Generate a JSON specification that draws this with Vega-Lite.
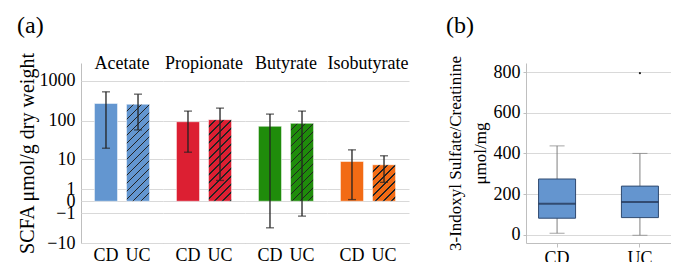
{
  "$schema": "https://vega.github.io/schema/vega-lite/v6.json",
  "padding": {"left": 17, "right": 0, "top": 13, "bottom": 0},
  "config": {
    "font": "Liberation Serif",
    "view": {"stroke": null},
    "axis": {"labelFont": "Liberation Serif", "titleFont": "Liberation Serif", "labelColor": "#000", "titleColor": "#000", "titleFontWeight": "normal", "domainColor": "#bfbfbf", "gridColor": "#d9d9d9", "tickColor": "#bfbfbf"},
    "title": {"font": "Liberation Serif", "fontWeight": "normal", "fontSize": 24, "anchor": "start", "color": "#000", "offset": 14}
  },
  "spacing": 37,
  "hconcat": [
    {
      "title": {"text": "(a)"},
      "data": {"values": [
        {"group": "Acetate", "type": "CD", "value": 273, "lo": 20, "hi": 534},
        {"group": "Acetate", "type": "UC", "value": 262, "lo": 59, "hi": 467},
        {"group": "Propionate", "type": "CD", "value": 95, "lo": 15.7, "hi": 176},
        {"group": "Propionate", "type": "UC", "value": 107, "lo": 2.3, "hi": 209},
        {"group": "Butyrate", "type": "CD", "value": 73, "lo": -3.6, "hi": 148},
        {"group": "Butyrate", "type": "UC", "value": 86.5, "lo": -1.35, "hi": 176},
        {"group": "Isobutyrate", "type": "CD", "value": 8.8, "lo": 0.1, "hi": 18.1},
        {"group": "Isobutyrate", "type": "UC", "value": 7.1, "lo": 1.96, "hi": 12.6}
      ]},
      "facet": {"column": {"field": "group", "type": "nominal", "sort": ["Acetate", "Propionate", "Butyrate", "Isobutyrate"],
        "header": {"title": null, "labelFont": "Liberation Serif", "labelFontSize": 18, "labelColor": "#000", "labelPadding": -10}}},
      "spacing": 0,
      "spec": {
        "width": 82,
        "height": 180,
        "encoding": {
          "x": {"field": "type", "type": "nominal", "scale": {"paddingInner": 0.28, "paddingOuter": 0.42},
            "axis": {"title": null, "labelAngle": 0, "ticks": false, "labelFontSize": 18, "labelPadding": 3}}
        },
        "layer": [
          {
            "mark": {"type": "bar", "stroke": "#ffffff", "strokeOpacity": 0.5, "strokeWidth": 1},
            "encoding": {
              "y": {"field": "value", "type": "quantitative",
                "scale": {"type": "symlog", "constant": 1, "domain": [-10, 2800], "nice": false},
                "axis": {"title": "SCFA μmol/g dry weight", "values": [-10, -1, 0, 1, 10, 100, 1000], "tickCount": 20, "format": "d", "ticks": false, "labelPadding": 6, "titlePadding": 2, "labelFontSize": 18, "titleFontSize": 20, "labelOverlap": false, "labelFlush": false}},
              "color": {
                "condition": [
                  {"test": "datum.type === 'UC' && datum.group === 'Acetate'", "value": {"gradient": "linear", "x1": 0, "y1": 0, "x2": 0.2777, "y2": 1.1713, "stops": [
                    {"offset": 0, "color": "#6396d0"}, {"offset": 0.055, "color": "#6396d0"}, {"offset": 0.055, "color": "#222222"}, {"offset": 0.0667, "color": "#222222"},
                    {"offset": 0.0667, "color": "#6396d0"}, {"offset": 0.1216, "color": "#6396d0"}, {"offset": 0.1216, "color": "#222222"}, {"offset": 0.1333, "color": "#222222"},
                    {"offset": 0.1333, "color": "#6396d0"}, {"offset": 0.1883, "color": "#6396d0"}, {"offset": 0.1883, "color": "#222222"}, {"offset": 0.2, "color": "#222222"},
                    {"offset": 0.2, "color": "#6396d0"}, {"offset": 0.255, "color": "#6396d0"}, {"offset": 0.255, "color": "#222222"}, {"offset": 0.2667, "color": "#222222"},
                    {"offset": 0.2667, "color": "#6396d0"}, {"offset": 0.3216, "color": "#6396d0"}, {"offset": 0.3216, "color": "#222222"}, {"offset": 0.3333, "color": "#222222"},
                    {"offset": 0.3333, "color": "#6396d0"}, {"offset": 0.3883, "color": "#6396d0"}, {"offset": 0.3883, "color": "#222222"}, {"offset": 0.4, "color": "#222222"},
                    {"offset": 0.4, "color": "#6396d0"}, {"offset": 0.455, "color": "#6396d0"}, {"offset": 0.455, "color": "#222222"}, {"offset": 0.4667, "color": "#222222"},
                    {"offset": 0.4667, "color": "#6396d0"}, {"offset": 0.5216, "color": "#6396d0"}, {"offset": 0.5216, "color": "#222222"}, {"offset": 0.5333, "color": "#222222"},
                    {"offset": 0.5333, "color": "#6396d0"}, {"offset": 0.5883, "color": "#6396d0"}, {"offset": 0.5883, "color": "#222222"}, {"offset": 0.6, "color": "#222222"},
                    {"offset": 0.6, "color": "#6396d0"}, {"offset": 0.655, "color": "#6396d0"}, {"offset": 0.655, "color": "#222222"}, {"offset": 0.6667, "color": "#222222"},
                    {"offset": 0.6667, "color": "#6396d0"}, {"offset": 0.7216, "color": "#6396d0"}, {"offset": 0.7216, "color": "#222222"}, {"offset": 0.7333, "color": "#222222"},
                    {"offset": 0.7333, "color": "#6396d0"}, {"offset": 0.7883, "color": "#6396d0"}, {"offset": 0.7883, "color": "#222222"}, {"offset": 0.8, "color": "#222222"},
                    {"offset": 0.8, "color": "#6396d0"}, {"offset": 0.855, "color": "#6396d0"}, {"offset": 0.855, "color": "#222222"}, {"offset": 0.8667, "color": "#222222"},
                    {"offset": 0.8667, "color": "#6396d0"}, {"offset": 0.9216, "color": "#6396d0"}, {"offset": 0.9216, "color": "#222222"}, {"offset": 0.9333, "color": "#222222"},
                    {"offset": 0.9333, "color": "#6396d0"}, {"offset": 1, "color": "#6396d0"}
                  ]}},
                  {"test": "datum.type === 'UC' && datum.group === 'Propionate'", "value": {"gradient": "linear", "x1": 0, "y1": 0, "x2": 0.3352, "y2": 1.1877, "stops": [
                    {"offset": 0, "color": "#dc1f32"}, {"offset": 0.0632, "color": "#dc1f32"}, {"offset": 0.0632, "color": "#222222"}, {"offset": 0.0766, "color": "#222222"},
                    {"offset": 0.0766, "color": "#dc1f32"}, {"offset": 0.1397, "color": "#dc1f32"}, {"offset": 0.1397, "color": "#222222"}, {"offset": 0.1531, "color": "#222222"},
                    {"offset": 0.1531, "color": "#dc1f32"}, {"offset": 0.2163, "color": "#dc1f32"}, {"offset": 0.2163, "color": "#222222"}, {"offset": 0.2297, "color": "#222222"},
                    {"offset": 0.2297, "color": "#dc1f32"}, {"offset": 0.2928, "color": "#dc1f32"}, {"offset": 0.2928, "color": "#222222"}, {"offset": 0.3062, "color": "#222222"},
                    {"offset": 0.3062, "color": "#dc1f32"}, {"offset": 0.3694, "color": "#dc1f32"}, {"offset": 0.3694, "color": "#222222"}, {"offset": 0.3828, "color": "#222222"},
                    {"offset": 0.3828, "color": "#dc1f32"}, {"offset": 0.4459, "color": "#dc1f32"}, {"offset": 0.4459, "color": "#222222"}, {"offset": 0.4593, "color": "#222222"},
                    {"offset": 0.4593, "color": "#dc1f32"}, {"offset": 0.5225, "color": "#dc1f32"}, {"offset": 0.5225, "color": "#222222"}, {"offset": 0.5359, "color": "#222222"},
                    {"offset": 0.5359, "color": "#dc1f32"}, {"offset": 0.599, "color": "#dc1f32"}, {"offset": 0.599, "color": "#222222"}, {"offset": 0.6124, "color": "#222222"},
                    {"offset": 0.6124, "color": "#dc1f32"}, {"offset": 0.6756, "color": "#dc1f32"}, {"offset": 0.6756, "color": "#222222"}, {"offset": 0.689, "color": "#222222"},
                    {"offset": 0.689, "color": "#dc1f32"}, {"offset": 0.7522, "color": "#dc1f32"}, {"offset": 0.7522, "color": "#222222"}, {"offset": 0.7656, "color": "#222222"},
                    {"offset": 0.7656, "color": "#dc1f32"}, {"offset": 0.8287, "color": "#dc1f32"}, {"offset": 0.8287, "color": "#222222"}, {"offset": 0.8421, "color": "#222222"},
                    {"offset": 0.8421, "color": "#dc1f32"}, {"offset": 0.9053, "color": "#dc1f32"}, {"offset": 0.9053, "color": "#222222"}, {"offset": 0.9187, "color": "#222222"},
                    {"offset": 0.9187, "color": "#dc1f32"}, {"offset": 0.9818, "color": "#dc1f32"}, {"offset": 0.9818, "color": "#222222"}, {"offset": 0.9952, "color": "#222222"},
                    {"offset": 0.9952, "color": "#dc1f32"}, {"offset": 1, "color": "#dc1f32"}
                  ]}},
                  {"test": "datum.type === 'UC' && datum.group === 'Butyrate'", "value": {"gradient": "linear", "x1": 0, "y1": 0, "x2": 0.3518, "y2": 1.1915, "stops": [
                    {"offset": 0, "color": "#1f8c0b"}, {"offset": 0.0654, "color": "#1f8c0b"}, {"offset": 0.0654, "color": "#222222"}, {"offset": 0.0793, "color": "#222222"},
                    {"offset": 0.0793, "color": "#1f8c0b"}, {"offset": 0.1447, "color": "#1f8c0b"}, {"offset": 0.1447, "color": "#222222"}, {"offset": 0.1586, "color": "#222222"},
                    {"offset": 0.1586, "color": "#1f8c0b"}, {"offset": 0.224, "color": "#1f8c0b"}, {"offset": 0.224, "color": "#222222"}, {"offset": 0.2379, "color": "#222222"},
                    {"offset": 0.2379, "color": "#1f8c0b"}, {"offset": 0.3032, "color": "#1f8c0b"}, {"offset": 0.3032, "color": "#222222"}, {"offset": 0.3171, "color": "#222222"},
                    {"offset": 0.3171, "color": "#1f8c0b"}, {"offset": 0.3825, "color": "#1f8c0b"}, {"offset": 0.3825, "color": "#222222"}, {"offset": 0.3964, "color": "#222222"},
                    {"offset": 0.3964, "color": "#1f8c0b"}, {"offset": 0.4618, "color": "#1f8c0b"}, {"offset": 0.4618, "color": "#222222"}, {"offset": 0.4757, "color": "#222222"},
                    {"offset": 0.4757, "color": "#1f8c0b"}, {"offset": 0.5411, "color": "#1f8c0b"}, {"offset": 0.5411, "color": "#222222"}, {"offset": 0.555, "color": "#222222"},
                    {"offset": 0.555, "color": "#1f8c0b"}, {"offset": 0.6204, "color": "#1f8c0b"}, {"offset": 0.6204, "color": "#222222"}, {"offset": 0.6343, "color": "#222222"},
                    {"offset": 0.6343, "color": "#1f8c0b"}, {"offset": 0.6997, "color": "#1f8c0b"}, {"offset": 0.6997, "color": "#222222"}, {"offset": 0.7136, "color": "#222222"},
                    {"offset": 0.7136, "color": "#1f8c0b"}, {"offset": 0.779, "color": "#1f8c0b"}, {"offset": 0.779, "color": "#222222"}, {"offset": 0.7929, "color": "#222222"},
                    {"offset": 0.7929, "color": "#1f8c0b"}, {"offset": 0.8583, "color": "#1f8c0b"}, {"offset": 0.8583, "color": "#222222"}, {"offset": 0.8722, "color": "#222222"},
                    {"offset": 0.8722, "color": "#1f8c0b"}, {"offset": 0.9376, "color": "#1f8c0b"}, {"offset": 0.9376, "color": "#222222"}, {"offset": 0.9515, "color": "#222222"},
                    {"offset": 0.9515, "color": "#1f8c0b"}, {"offset": 1, "color": "#1f8c0b"}
                  ]}},
                  {"test": "datum.type === 'UC' && datum.group === 'Isobutyrate'", "value": {"gradient": "linear", "x1": 0, "y1": 0, "x2": 0.7369, "y2": 1.1662, "stops": [
                    {"offset": 0, "color": "#f26b15"}, {"offset": 0.1111, "color": "#f26b15"}, {"offset": 0.1111, "color": "#222222"}, {"offset": 0.1347, "color": "#222222"},
                    {"offset": 0.1347, "color": "#f26b15"}, {"offset": 0.2458, "color": "#f26b15"}, {"offset": 0.2458, "color": "#222222"}, {"offset": 0.2694, "color": "#222222"},
                    {"offset": 0.2694, "color": "#f26b15"}, {"offset": 0.3804, "color": "#f26b15"}, {"offset": 0.3804, "color": "#222222"}, {"offset": 0.404, "color": "#222222"},
                    {"offset": 0.404, "color": "#f26b15"}, {"offset": 0.5151, "color": "#f26b15"}, {"offset": 0.5151, "color": "#222222"}, {"offset": 0.5387, "color": "#222222"},
                    {"offset": 0.5387, "color": "#f26b15"}, {"offset": 0.6498, "color": "#f26b15"}, {"offset": 0.6498, "color": "#222222"}, {"offset": 0.6734, "color": "#222222"},
                    {"offset": 0.6734, "color": "#f26b15"}, {"offset": 0.7845, "color": "#f26b15"}, {"offset": 0.7845, "color": "#222222"}, {"offset": 0.8081, "color": "#222222"},
                    {"offset": 0.8081, "color": "#f26b15"}, {"offset": 0.9192, "color": "#f26b15"}, {"offset": 0.9192, "color": "#222222"}, {"offset": 0.9428, "color": "#222222"},
                    {"offset": 0.9428, "color": "#f26b15"}, {"offset": 1, "color": "#f26b15"}
                  ]}}
                ],
                "field": "group", "type": "nominal",
                "scale": {"domain": ["Acetate", "Propionate", "Butyrate", "Isobutyrate"], "range": ["#6396d0", "#dc1f32", "#1f8c0b", "#f26b15"]},
                "legend": null
              }
            }
          },
          {
            "mark": {"type": "rule", "color": "#222222", "strokeWidth": 1.3},
            "encoding": {"y": {"field": "lo", "type": "quantitative"}, "y2": {"field": "hi"}}
          },
          {
            "mark": {"type": "tick", "color": "#222222", "thickness": 1.3, "size": 8},
            "encoding": {"y": {"field": "lo", "type": "quantitative"}}
          },
          {
            "mark": {"type": "tick", "color": "#222222", "thickness": 1.3, "size": 8},
            "encoding": {"y": {"field": "hi", "type": "quantitative"}}
          }
        ]
      }
    },
    {
      "title": {"text": "(b)", "offset": 18},
      "width": 145,
      "height": 180,
      "data": {"values": [
        {"group": "CD", "min": 7, "q1": 81, "median": 152, "q3": 274, "max": 437, "outlier": null},
        {"group": "UC", "min": -3, "q1": 84, "median": 161, "q3": 239, "max": 400, "outlier": 795}
      ]},
      "encoding": {
        "x": {"field": "group", "type": "nominal", "scale": {"paddingInner": 0.25, "paddingOuter": 0},
          "axis": {"title": null, "labelAngle": 0, "labelFontSize": 18, "tickSize": 4, "labelPadding": 2}}
      },
      "layer": [
        {
          "mark": {"type": "rule", "color": "#7f7f7f"},
          "encoding": {
            "y": {"field": "min", "type": "quantitative", "scale": {"domain": [-41, 845], "nice": false},
              "axis": {"values": [0, 200, 400, 600, 800], "tickCount": 20, "title": ["3-Indoxyl Sulfate/Creatinine", "μmol/mg"], "titleFontSize": 17, "titleLineHeight": 25, "labelFontSize": 18, "tickSize": 3, "labelPadding": 3, "titlePadding": 4}},
            "y2": {"field": "max"}
          }
        },
        {"mark": {"type": "tick", "color": "#7f7f7f", "size": 15, "thickness": 1}, "encoding": {"y": {"field": "min", "type": "quantitative"}}},
        {"mark": {"type": "tick", "color": "#7f7f7f", "size": 15, "thickness": 1}, "encoding": {"y": {"field": "max", "type": "quantitative"}}},
        {"mark": {"type": "bar", "size": 37, "fill": "#6495cf", "stroke": "#2f4a70", "strokeWidth": 1}, "encoding": {"y": {"field": "q1", "type": "quantitative"}, "y2": {"field": "q3"}}},
        {"mark": {"type": "tick", "color": "#1c2c48", "size": 37, "thickness": 2}, "encoding": {"y": {"field": "median", "type": "quantitative"}}},
        {"mark": {"type": "point", "filled": true, "color": "#222222", "size": 5, "opacity": 1}, "encoding": {"y": {"field": "outlier", "type": "quantitative"}}}
      ]
    }
  ]
}
